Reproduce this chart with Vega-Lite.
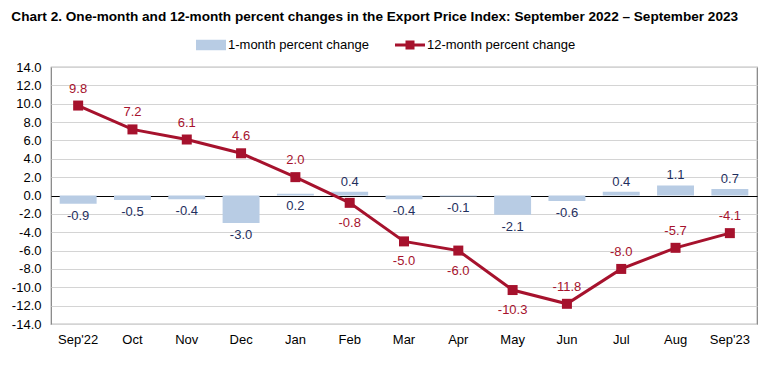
{
  "$schema": "https://vega.github.io/schema/vega-lite/v6.json",
  "width": 706,
  "height": 257,
  "padding": {"left": 11, "top": 10, "right": 20, "bottom": 12},
  "background": "white",
  "config": {
    "font": "Liberation Sans",
    "locale": {"number": {"decimal": ".", "thousands": ",", "grouping": [3], "currency": ["$", ""], "minus": "-"}},
    "view": {"stroke": "#808080", "strokeWidth": 1.2},
    "axis": {"labelFont": "Liberation Sans", "labelFontSize": 13, "labelColor": "#000000", "domain": false, "ticks": false, "title": null, "labelOverlap": false},
    "axisX": {"labelAngle": 0, "labelPadding": 9, "grid": false},
    "axisY": {"labelPadding": 10, "grid": true, "gridWidth": 1.2, "gridOpacity": 1, "format": ".1f"}
  },
  "title": {
    "text": "Chart 2. One-month and 12-month percent changes in the Export Price Index: September 2022 – September 2023",
    "anchor": "start",
    "frame": "bounds",
    "fontSize": 13.6,
    "fontWeight": "bold",
    "color": "#000000",
    "offset": 6
  },
  "data": {
    "values": [
      {"month": "Sep'22", "m1": -0.9, "m12": 9.8},
      {"month": "Oct", "m1": -0.5, "m12": 7.2},
      {"month": "Nov", "m1": -0.4, "m12": 6.1},
      {"month": "Dec", "m1": -3.0, "m12": 4.6},
      {"month": "Jan", "m1": 0.2, "m12": 2.0},
      {"month": "Feb", "m1": 0.4, "m12": -0.8},
      {"month": "Mar", "m1": -0.4, "m12": -5.0},
      {"month": "Apr", "m1": -0.1, "m12": -6.0},
      {"month": "May", "m1": -2.1, "m12": -10.3},
      {"month": "Jun", "m1": -0.6, "m12": -11.8},
      {"month": "Jul", "m1": 0.4, "m12": -8.0},
      {"month": "Aug", "m1": 1.1, "m12": -5.7},
      {"month": "Sep'23", "m1": 0.7, "m12": -4.1}
    ]
  },
  "encoding": {
    "x": {"field": "month", "type": "ordinal", "sort": null, "scale": {"paddingInner": 0.32, "paddingOuter": 0.16}, "axis": {"labelAngle": 0}}
  },
  "resolve": {"scale": {"y": "shared"}},
  "layer": [
    {
      "mark": {"type": "bar"},
      "encoding": {
        "y": {"field": "m1", "type": "quantitative", "scale": {"domain": [-14, 14], "nice": false}, "axis": {"values": [-14, -12, -10, -8, -6, -4, -2, 0, 2, 4, 6, 8, 10, 12, 14], "gridColor": {"condition": {"test": "datum.value === 0", "value": "#000000"}, "value": "#d4d4d4"}}},
        "color": {
          "datum": "1-month percent change",
          "scale": {"domain": ["1-month percent change", "12-month percent change"], "range": ["#b8cce4", "#a6122d"]},
          "legend": {
            "orient": "none",
            "legendX": 145,
            "legendY": -37,
            "direction": "horizontal",
            "title": null,
            "labelFontSize": 13,
            "labelColor": "#000000",
            "labelFont": "Liberation Sans",
            "labelOffset": 2,
            "columnPadding": 26,
            "symbolSize": 900,
            "symbolStrokeWidth": 0,
            "encode": {
              "symbols": {
                "update": {
                  "shape": {"signal": "datum.value === '1-month percent change' ? 'M-1,-0.35H1V0.35H-1Z' : 'M-1,-0.1H1V0.1H-1Z M-0.3,-0.3H0.3V0.3H-0.3Z'"},
                  "fill": {"signal": "datum.value === '1-month percent change' ? '#b8cce4' : '#a6122d'"},
                  "strokeWidth": {"value": 0},
                  "opacity": {"value": 1}
                }
              }
            }
          }
        }
      }
    },
    {
      "mark": {"type": "line", "strokeWidth": 3},
      "encoding": {
        "y": {"field": "m12", "type": "quantitative", "axis": {"values": [-14, -12, -10, -8, -6, -4, -2, 0, 2, 4, 6, 8, 10, 12, 14], "gridColor": {"condition": {"test": "datum.value === 0", "value": "#000000"}, "value": "#d4d4d4"}}},
        "color": {"datum": "12-month percent change"}
      }
    },
    {
      "mark": {"type": "point", "shape": "square", "filled": true, "size": 100, "opacity": 1},
      "encoding": {
        "y": {"field": "m12", "type": "quantitative", "axis": {"values": [-14, -12, -10, -8, -6, -4, -2, 0, 2, 4, 6, 8, 10, 12, 14], "gridColor": {"condition": {"test": "datum.value === 0", "value": "#000000"}, "value": "#d4d4d4"}}},
        "color": {"datum": "12-month percent change"}
      }
    },
    {
      "transform": [{"filter": "indexof(['Feb','Mar','Apr','May'], datum.month) < 0"}],
      "mark": {"type": "text", "fontSize": 13, "color": "#a6122d", "dy": -17, "baseline": "middle"},
      "encoding": {
        "y": {"field": "m12", "type": "quantitative", "axis": {"values": [-14, -12, -10, -8, -6, -4, -2, 0, 2, 4, 6, 8, 10, 12, 14], "gridColor": {"condition": {"test": "datum.value === 0", "value": "#000000"}, "value": "#d4d4d4"}}},
        "text": {"field": "m12", "type": "quantitative", "format": ".1f"}
      }
    },
    {
      "transform": [{"filter": "indexof(['Feb','Mar','Apr','May'], datum.month) >= 0"}],
      "mark": {"type": "text", "fontSize": 13, "color": "#a6122d", "dy": 20, "baseline": "middle"},
      "encoding": {
        "y": {"field": "m12", "type": "quantitative", "axis": {"values": [-14, -12, -10, -8, -6, -4, -2, 0, 2, 4, 6, 8, 10, 12, 14], "gridColor": {"condition": {"test": "datum.value === 0", "value": "#000000"}, "value": "#d4d4d4"}}},
        "text": {"field": "m12", "type": "quantitative", "format": ".1f"}
      }
    },
    {
      "transform": [{"filter": "datum.m1 > 0.3"}],
      "mark": {"type": "text", "fontSize": 13, "color": "#1f2f5e", "dy": -10, "baseline": "middle"},
      "encoding": {
        "y": {"field": "m1", "type": "quantitative", "axis": {"values": [-14, -12, -10, -8, -6, -4, -2, 0, 2, 4, 6, 8, 10, 12, 14], "gridColor": {"condition": {"test": "datum.value === 0", "value": "#000000"}, "value": "#d4d4d4"}}},
        "text": {"field": "m1", "type": "quantitative", "format": ".1f"}
      }
    },
    {
      "transform": [{"filter": "datum.m1 <= 0.3"}],
      "mark": {"type": "text", "fontSize": 13, "color": "#1f2f5e", "dy": 12, "baseline": "middle"},
      "encoding": {
        "y": {"field": "m1", "type": "quantitative", "axis": {"values": [-14, -12, -10, -8, -6, -4, -2, 0, 2, 4, 6, 8, 10, 12, 14], "gridColor": {"condition": {"test": "datum.value === 0", "value": "#000000"}, "value": "#d4d4d4"}}},
        "text": {"field": "m1", "type": "quantitative", "format": ".1f"}
      }
    }
  ]
}
